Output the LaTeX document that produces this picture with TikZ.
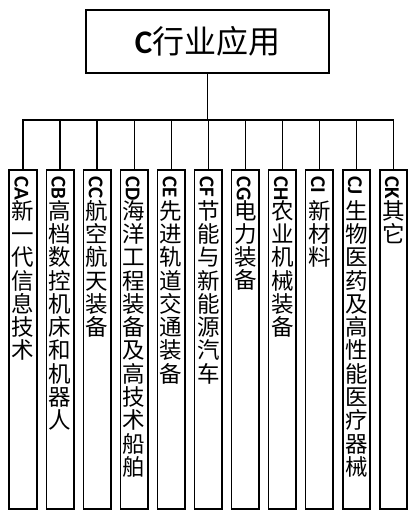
\documentclass[tikz,border=0pt]{standalone}
\usepackage{fontspec}
\newfontfamily\cjk{Noto Sans CJK SC}
\newfontfamily\lat{Carlito}
\usetikzlibrary{calc}
\newcommand\cjklab{\cjk\fontsize{22.5}{23.3}\selectfont\lineskip=1pt\relax\lineskiplimit=0pt\relax}
\tikzset{
  box/.style={draw, line width=1.6pt, inner sep=0pt},
  leaf/.style={box, minimum width=27.5pt, minimum height=339pt, anchor=north},
  lab/.style={anchor=north, align=center, inner sep=0pt, font=\cjklab},
  code/.style={rotate=-90, anchor=west, inner sep=0pt, font=\lat\bfseries\fontsize{21}{21}\selectfont},
  link/.style={line width=1.3pt},
}
\begin{document}
\begin{tikzpicture}[x=1pt,y=1pt]
\useasboundingbox (0,0) rectangle (417,-519);
\node[box, minimum width=243pt, minimum height=63pt] (top) at (207.5,-41.5)
  {\lat\bfseries\fontsize{33}{33}\selectfont C\cjk\mdseries\fontsize{32}{32}\selectfont 行业应用};
\coordinate (bus) at (207.5,-120);
\foreach \n/\c [count=\i from 0] in {a/CA,b/CB,c/CC,d/CD,e/CE,f/CF,g/CG,h/CH,i/CI,j/CJ,k/CK}{
  \node[leaf] (\n) at ({23+37.05*\i},-169) {};
  \node[code] (c\n) at ($(\n.north)+(-1.5,-7)$) {\c};
  \draw[link] (top.south) -- (bus) -| (\n.north);
}
\node[lab] (ta) at ($(a.north)+(0,-31)$) {新\\一\\代\\信\\息\\技\\术};
\node[lab] (tb) at ($(b.north)+(0,-31)$) {高\\档\\数\\控\\机\\床\\和\\机\\器\\人};
\node[lab] (tc) at ($(c.north)+(0,-31)$) {航\\空\\航\\天\\装\\备};
\node[lab] (td) at ($(d.north)+(0,-31)$) {海\\洋\\工\\程\\装\\备\\及\\高\\技\\术\\船\\舶};
\node[lab] (te) at ($(e.north)+(0,-31)$) {先\\进\\轨\\道\\交\\通\\装\\备};
\node[lab] (tf) at ($(f.north)+(0,-31)$) {节\\能\\与\\新\\能\\源\\汽\\车};
\node[lab] (tg) at ($(g.north)+(0,-31)$) {电\\力\\装\\备};
\node[lab] (th) at ($(h.north)+(0,-31)$) {农\\业\\机\\械\\装\\备};
\node[lab] (ti) at ($(i.north)+(0,-31)$) {新\\材\\料};
\node[lab] (tj) at ($(j.north)+(0,-31)$) {生\\物\\医\\药\\及\\高\\性\\能\\医\\疗\\器\\械};
\node[lab] (tk) at ($(k.north)+(0,-31)$) {其\\它};
\end{tikzpicture}
\end{document}
